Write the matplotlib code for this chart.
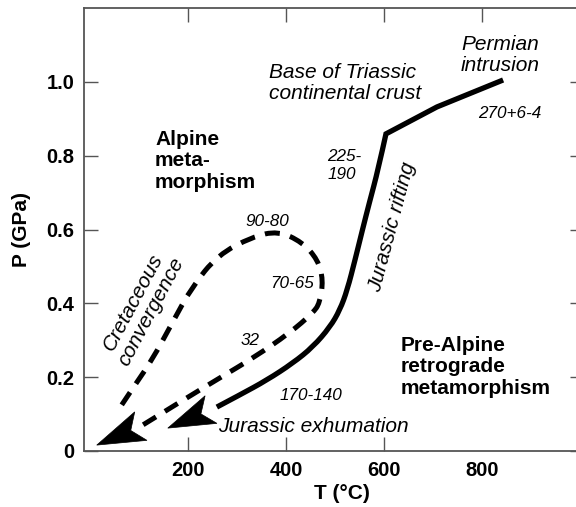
import numpy as np
import matplotlib
matplotlib.use("Agg")
import matplotlib.pyplot as plt
from matplotlib.patches import Polygon, PathPatch
from matplotlib.path import Path

plt.rcParams["font.family"] = ["Liberation Sans", "DejaVu Sans"]

# Pre-Alpine path: Permian intrusion -> Jurassic rifting -> Jurassic exhumation
solid_T = [843, 708, 604, 588, 570, 556, 541, 525, 510, 490, 455, 414, 361, 306, 259]
solid_P = [1.005, 0.932, 0.859, 0.762, 0.672, 0.599, 0.518, 0.436, 0.382, 0.336,
           0.282, 0.238, 0.192, 0.152, 0.119]
solid_tip = (159, 0.062)
kink = 2  # index of the sharp corner at the base of the crust

# Alpine loop: Cretaceous convergence -> 90-80 peak -> 70-65 -> 32
dash_T = [65, 92, 127, 168, 208, 261, 331, 384, 433, 465, 476, 469, 455, 408, 333, 265,
          184, 105]
dash_P = [0.125, 0.179, 0.247, 0.347, 0.444, 0.531, 0.580, 0.596, 0.566, 0.518, 0.463,
          0.401, 0.374, 0.320, 0.252, 0.198, 0.133, 0.068]
dash_tip = (14, 0.016)

x_ticks = [200, 400, 600, 800]
y_ticks = [0, 0.2, 0.4, 0.6, 0.8, 1.0]
y_tick_labels = ["0", "0.2", "0.4", "0.6", "0.8", "1.0"]


def smooth_path(xs, ys, corner=0):
    """Polyline up to `corner`, then quadratic curves through the midpoints"""
    pts = np.column_stack([xs, ys]).astype(float)
    verts = [pts[0]]
    codes = [Path.MOVETO]
    for i in range(1, corner + 1):
        verts.append(pts[i])
        codes.append(Path.LINETO)
    rest = pts[corner:]
    for i in range(1, len(rest) - 1):
        end = rest[i + 1] if i == len(rest) - 2 else (rest[i] + rest[i + 1]) / 2
        verts += [rest[i], end]
        codes += [Path.CURVE3, Path.CURVE3]
    return Path(verts, codes)


def arrow_head(ax, back, tip, length=47, half_width=15, notch=11):
    """Concave arrowhead laid out in pixels, stored back in data units"""
    to_px = ax.transData
    b = to_px.transform(back)
    t = to_px.transform(tip)
    u = (b - t) / np.hypot(*(b - t))
    n = np.array([-u[1], u[0]])
    pts = [t,
           t + length * u + half_width * n,
           t + (length - notch) * u,
           t + length * u - half_width * n]
    pts = to_px.inverted().transform(np.array(pts))
    ax.add_patch(Polygon(pts, closed=True, facecolor="black", edgecolor="black",
                         linewidth=0.5, zorder=4))


fig = plt.figure(figsize=(5.76, 5.07), dpi=100)
ax = fig.add_axes([84 / 576, 56 / 507, 500 / 576, 443 / 507])
ax.set_xlim(-12, 1008)
ax.set_ylim(0, 1.2)

ax.add_patch(PathPatch(smooth_path(solid_T, solid_P, kink), facecolor="none",
                       edgecolor="black", lw=3.8, joinstyle="miter", capstyle="butt",
                       zorder=3))
ax.add_patch(PathPatch(smooth_path(dash_T, dash_P), facecolor="none", edgecolor="black",
                       lw=3.6, linestyle=(0, (3, 2.1)), capstyle="butt", zorder=3))
arrow_head(ax, (solid_T[-1], solid_P[-1]), solid_tip)
arrow_head(ax, (dash_T[-1], dash_P[-1]), dash_tip, length=48, half_width=15.5)

ax.set_xticks(x_ticks)
ax.set_xticklabels([str(v) for v in x_ticks])
ax.set_yticks(y_ticks)
ax.set_yticklabels(y_tick_labels)
ax.tick_params(direction="in", length=10, width=1, color="#555555", top=True,
               right=True, labelsize=14.5, pad=7)
for lab in ax.get_xticklabels() + ax.get_yticklabels():
    lab.set_fontweight("bold")
ax.xaxis.get_major_ticks()[3].tick1line.set_visible(False)
for sp in ax.spines.values():
    sp.set_color("#555555")
    sp.set_linewidth(1.3)

ax.set_xlabel("T (°C)", fontsize=15, fontweight="bold")
ax.xaxis.set_label_coords(0.516, -0.075)
ax.set_ylabel("P (GPa)", fontsize=15, fontweight="bold")
ax.yaxis.set_label_coords(-0.105, 0.5)

it = dict(fontsize=15, style="italic")
num = dict(fontsize=12.3, style="italic")
bold = dict(fontsize=15, fontweight="bold")

ax.text(837, 1.073, "Permian\nintrusion", ha="center", va="center",
        linespacing=1.15, **it)
ax.text(365, 0.997, "Base of Triassic\ncontinental crust", ha="left", va="center",
        linespacing=1.15, **it)
ax.text(857, 0.914, "270+6-4", ha="center", va="center", **num)
ax.text(484, 0.773, "225-\n190", ha="left", va="center", linespacing=1.3, **num)
ax.text(616, 0.607, "Jurassic rifting", ha="center", va="center", rotation=75,
        rotation_mode="anchor", **it)
ax.text(133, 0.786, "Alpine\nmeta-\nmorphism", ha="left", va="center",
        linespacing=1.15, **bold)
ax.text(361, 0.623, "90-80", ha="center", va="center", **num)
ax.text(412, 0.455, "70-65", ha="center", va="center", **num)
ax.text(327, 0.30, "32", ha="center", va="center", **num)
ax.text(451, 0.150, "170-140", ha="center", va="center", **num)
ax.text(261, 0.051, "Jurassic exhumation", ha="left", va="baseline", **it)
ax.text(106, 0.39, "Cretaceous\nconvergence", ha="center", va="center", rotation=62,
        rotation_mode="anchor", linespacing=1.1, **it)
ax.text(633, 0.228, "Pre-Alpine\nretrograde\nmetamorphism", ha="left", va="center",
        linespacing=1.15, **bold)

fig.savefig("out.png", dpi=100)
